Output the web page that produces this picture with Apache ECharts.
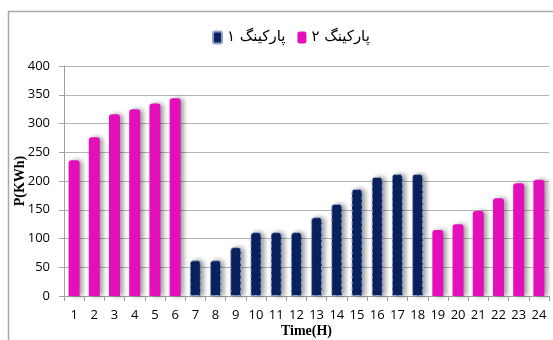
<!DOCTYPE html>
<html>
<head>
<meta charset="utf-8">
<script src="https://cdn.jsdelivr.net/npm/echarts@6/dist/echarts.min.js"></script>
<style>
html,body{margin:0;padding:0;background:#fff;}
#chart{width:553px;height:340px;}
</style>
</head>
<body>
<div id="chart"></div>
<script>
// Hourly energy of two parking lots
const hours = ['1','2','3','4','5','6','7','8','9','10','11','12','13','14','15','16','17','18','19','20','21','22','23','24'];
const parking1 = [null,null,null,null,null,null,62,62,85,111,111,111,137,160,186,207,212,212,null,null,null,null,null,null];
const parking2 = [236,276,316,325,335,344,null,null,null,null,null,null,null,null,null,null,null,null,115,125,148,170,196,202];
const yTicks = [0,50,100,150,200,250,300,350,400];
const names = ['پارکینگ ۱','پارکینگ ۲'];

const chart = echarts.init(document.getElementById('chart'));
const shadow = {shadowColor:'rgba(0,0,0,0.4)', shadowBlur:5, shadowOffsetX:3, shadowOffsetY:0};

chart.setOption({
  animation:false,
  graphic:[{type:'rect', shape:{x:8.5,y:11.5,width:560,height:340}, style:{fill:'none', stroke:'#a8a8a8', lineWidth:1.5}, silent:true, z:-1}],
  legend:{
    top:25, left:207, itemWidth:9, itemHeight:12, itemGap:12,
    textStyle:{fontFamily:'DejaVu Sans', fontSize:15, color:'#000'},
    data:names
  },
  grid:{left:64, right:4, top:66, bottom:44, containLabel:false, outerBoundsMode:'none'},
  xAxis:{
    type:'category', data:hours, boundaryGap:true,
    name:'Time(H)', nameLocation:'middle', nameGap:28, nameMoveOverlap:false,
    nameTextStyle:{fontFamily:'Liberation Serif', fontWeight:'bold', fontSize:14, color:'#000'},
    axisLine:{lineStyle:{color:'#a0a0a0'}},
    axisTick:{show:true, length:5, lineStyle:{color:'#a0a0a0'}},
    axisLabel:{fontFamily:'Open Sans', fontSize:13, color:'#000', margin:13}
  },
  yAxis:{
    type:'value', min:yTicks[0], max:yTicks[yTicks.length-1], interval:50,
    name:'P(KWh)', nameLocation:'middle', nameGap:37, nameRotate:90, nameMoveOverlap:false,
    nameTextStyle:{fontFamily:'Liberation Serif', fontWeight:'bold', fontSize:14, color:'#000'},
    axisLine:{show:true, lineStyle:{color:'#a0a0a0'}},
    axisTick:{show:true, length:5, lineStyle:{color:'#a0a0a0'}},
    splitLine:{lineStyle:{color:'#b4b4b4'}},
    axisLabel:{fontFamily:'Open Sans', fontSize:13, color:'#000', margin:14}
  },
  series:[
    {name:names[0], type:'bar', stack:'p', barWidth:11, data:parking1,
     itemStyle:Object.assign({color:'#0a2260', borderColor:'#8fa0c8', borderWidth:1, borderType:'dashed', borderRadius:[3,3,0,0]}, shadow)},
    {name:names[1], type:'bar', stack:'p', barWidth:11, data:parking2,
     itemStyle:Object.assign({color:'#e40fb8', borderRadius:[3,3,0,0]}, shadow)}
  ]
});
</script>
</body>
</html>
